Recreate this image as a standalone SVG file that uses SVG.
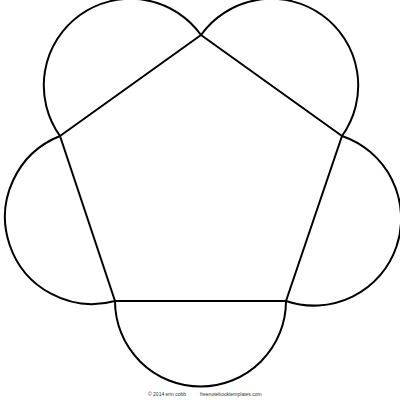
<svg xmlns="http://www.w3.org/2000/svg" width="400" height="400" viewBox="0 0 400 400">
<style>
.s{fill:none;stroke:#000;stroke-width:2;stroke-linejoin:round}
.t{font-family:"Liberation Sans",Arial,sans-serif;font-size:5px;fill:#333}
</style>
<rect width="400" height="400" fill="#fff"/>
<g id="tabs">
<path class="s" d="M201,35 A86.7,86.7 0 0 1 342,136"/>
<path class="s" d="M342,136 A87.1,87.1 0 0 1 286,301"/>
<path class="s" d="M286,301 A85.5,85.5 0 0 1 115,301"/>
<path class="s" d="M115,301 A87.1,87.1 0 0 1 60,136"/>
<path class="s" d="M60,136 A86.7,86.7 0 0 1 201,35"/>
</g>
<g id="pentagon">
<polygon class="s" points="201,35 342,136 286,301 115,301 60,136"/>
</g>
<text class="t" x="148" y="396">© 2014 erin cobb</text>
<text class="t" x="200" y="396">freenotebooktemplates.com</text>
</svg>
